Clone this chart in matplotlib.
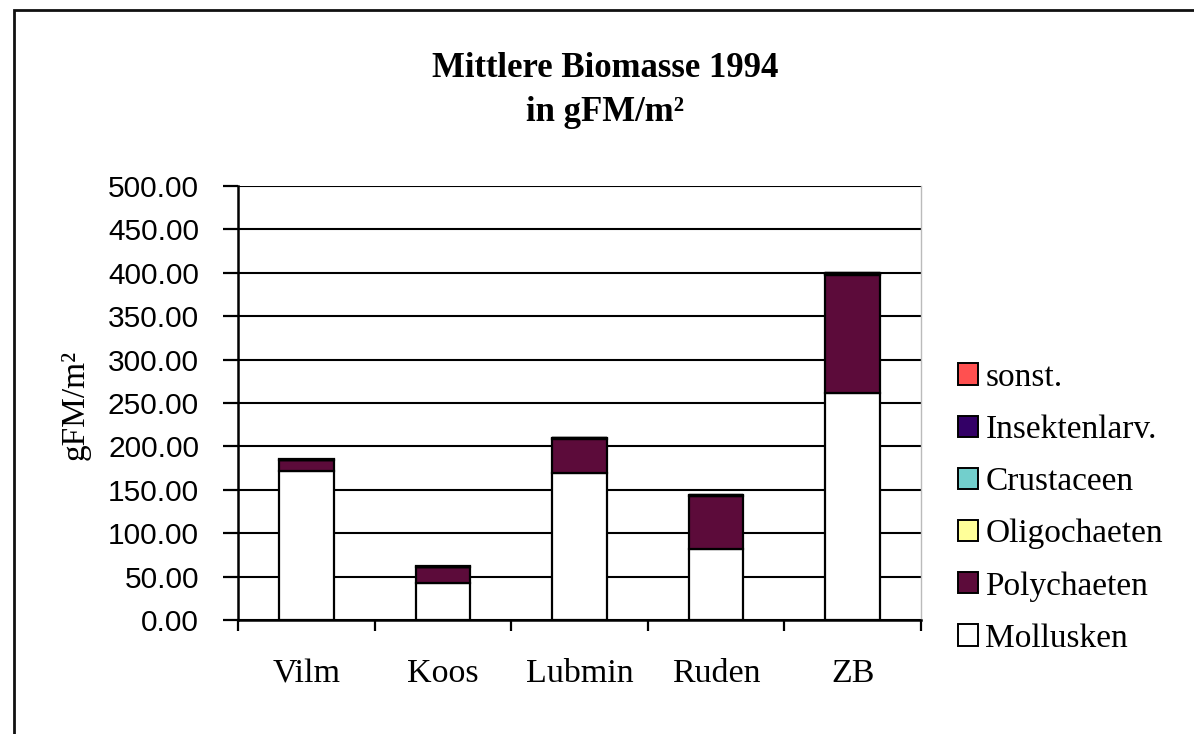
import matplotlib
matplotlib.use("Agg")
import matplotlib.pyplot as plt
from matplotlib.patches import Rectangle, Patch
from matplotlib.ticker import FormatStrFormatter, FixedLocator

# Mean biomass per station, 1994 (gFM/m²)
stations = ["Vilm", "Koos", "Lubmin", "Ruden", "ZB"]
mollusken = [172.0, 43.0, 169.0, 82.0, 262.0]
polychaeten = [12.0, 18.0, 40.0, 61.0, 136.0]
oligochaeten = [0.3, 0.2, 0.3, 0.2, 0.4]
crustaceen = [0.5, 0.3, 0.2, 0.4, 0.8]
insektenlarv = [0.1, 0.1, 0.1, 0.1, 0.2]
sonst = [0.1, 0.1, 0.1, 0.1, 0.2]

series_names = ["Mollusken", "Polychaeten", "Oligochaeten",
                "Crustaceen", "Insektenlarv.", "sonst."]
series_values = [mollusken, polychaeten, oligochaeten,
                 crustaceen, insektenlarv, sonst]
series_colors = ["#FFFFFF", "#5C0B3A", "#FFFF99",
                 "#72CFCC", "#330066", "#FF5050"]

yticks = [0, 50, 100, 150, 200, 250, 300, 350, 400, 450, 500]

SERIF = ["Liberation Serif", "DejaVu Serif"]
SANS = ["Liberation Sans", "DejaVu Sans"]

W, H = 1194, 734
fig = plt.figure(figsize=(W / 100, H / 100), dpi=100)
fig.patch.set_facecolor("white")

# Outer chart frame (runs off the right and bottom edges)
fig.patches.append(Rectangle((14 / W, -0.2), 1.5, 1 - 10 / H + 0.2,
                             transform=fig.transFigure, fill=False,
                             edgecolor="#111111", linewidth=2.0))

ax = fig.add_axes([238 / W, (H - 620) / H, (921 - 238) / W, (620 - 186) / H])

x = list(range(len(stations)))
bottom = [0.0] * len(stations)
for name, vals, col in zip(series_names, series_values, series_colors):
    ax.bar(x, vals, width=0.4, bottom=bottom, color=col,
           edgecolor="black", linewidth=1.6, label=name, zorder=3)
    bottom = [b + v for b, v in zip(bottom, vals)]

ax.set_xlim(-0.5, len(stations) - 0.5)
ax.set_ylim(0, 500)
ax.set_yticks(yticks)
ax.yaxis.set_major_formatter(FormatStrFormatter("%.2f"))
ax.set_xticks(x)
ax.set_xticklabels(stations, fontfamily=SERIF, fontsize=24.5)
ax.xaxis.set_minor_locator(FixedLocator([i - 0.5 for i in range(len(stations) + 1)]))
ax.tick_params(axis="x", which="major", length=0, pad=28)
ax.tick_params(axis="x", which="minor", length=8, width=1.6, direction="out", color="black")
ax.tick_params(axis="y", length=11, width=1.6, direction="out", pad=17,
               labelsize=21.5, color="black")
for lbl in ax.get_yticklabels():
    lbl.set_fontfamily(SANS)

ax.grid(axis="y", color="black", linewidth=1.5, zorder=0)
ax.set_axisbelow(True)
ax.spines["top"].set_visible(False)
ax.spines["right"].set_color("#BBBBBB")
ax.spines["right"].set_linewidth(1.0)
for side in ("left", "bottom"):
    ax.spines[side].set_color("black")
    ax.spines[side].set_linewidth(1.8)

ax.set_ylabel("gFM/m²", fontfamily=SERIF, fontsize=24)
ax.yaxis.label.set_verticalalignment("center")
ax.yaxis.set_label_coords((75 - 238) / (921 - 238), (620 - 405) / (620 - 186))

fig.text(605 / W, 1 - 77 / H, "Mittlere Biomasse 1994", ha="center",
         va="baseline", fontfamily=SERIF, fontweight="bold", fontsize=25)
fig.text(605 / W, 1 - 121 / H, "in gFM/m²", ha="center",
         va="baseline", fontfamily=SERIF, fontweight="bold", fontsize=25)

handles = [Patch(facecolor=c, edgecolor="black", linewidth=1.4)
           for c in series_colors]
leg = fig.legend(handles[::-1], series_names[::-1], loc="center left",
                 bbox_to_anchor=(958 / W, 1 - 508 / H), frameon=False,
                 prop={"family": SERIF, "size": 24}, handlelength=0.6,
                 handleheight=0.6, handletextpad=0.22, labelspacing=0.65,
                 borderpad=0, borderaxespad=0)

fig.savefig("out.png", dpi=100, facecolor="white")
